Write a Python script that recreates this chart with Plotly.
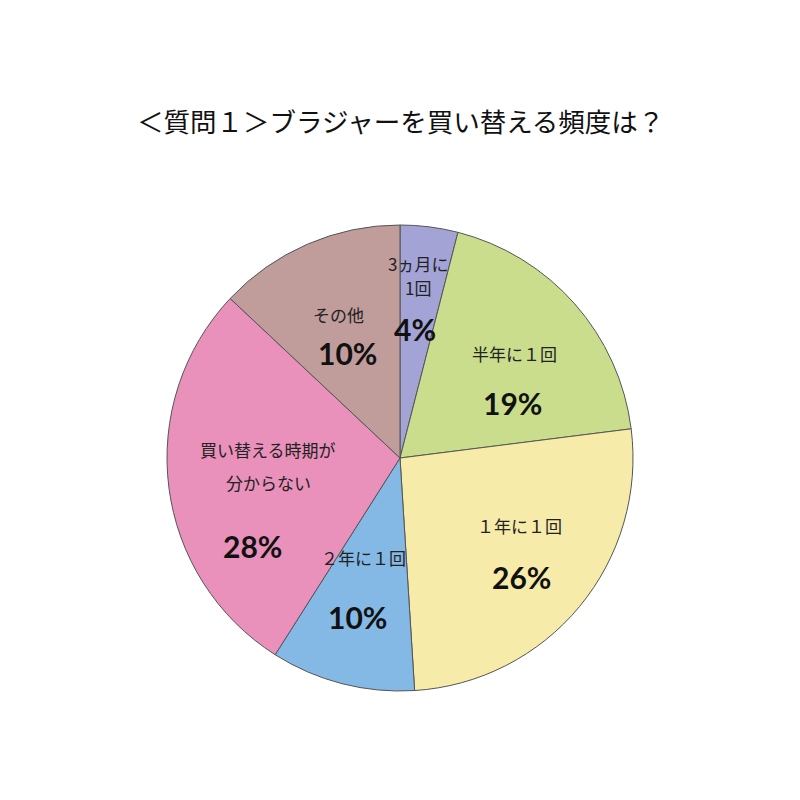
import math
import plotly.graph_objects as go

# slices, clockwise from 12 o'clock
categories = ["3ヵ月に<br>1回", "半年に１回", "１年に１回", "２年に１回",
              "買い替える時期が<br>分からない", "その他"]
slice_sizes = [4, 19, 26, 10, 28, 13]          # angular share
pct_labels = ["4%", "19%", "26%", "10%", "28%", "10%"]  # percentages printed on the chart
colors = ["#a3a3d6", "#c9dd8c", "#f6eba9", "#84b9e6", "#e991bb", "#c09c9b"]

# label placement (style only): radial fraction, category offset, percent offset, line gap
label_frac = [0.72, 0.60, 0.66, 0.58, 0.63, 0.58]
cat_off = [(-3, -16), (10, -12), (1, -31), (-3, -31), (14, -10), (-8, -19)]
pct_off = [(-6, 37), (8, 37), (3, 21), (-9, 28), (-2, 70), (1, 19)]
line_gap = [24, 0, 0, 0, 33, 0]

W = H = 800
PAGE_PAD = 8  # the html body margin shifts the figure
cx, cy, R = 400 - PAGE_PAD, 458 - PAGE_PAD, 233
dom_x = [(cx - R) / W, (cx + R) / W]
dom_y = [1 - (cy + R) / H, 1 - (cy - R) / H]

fig = go.Figure(go.Pie(
    labels=[c.replace("<br>", "") for c in categories],
    values=slice_sizes,
    sort=False,
    direction="clockwise",
    rotation=0,
    marker=dict(colors=colors, line=dict(color="#555555", width=1)),
    textinfo="none",
    hoverinfo="label+value",
    domain=dict(x=dom_x, y=dom_y),
    showlegend=False,
))

total = sum(slice_sizes)
annotations = []
acc = 0
for i, v in enumerate(slice_sizes):
    mid = (acc + v / 2) / total * 2 * math.pi
    acc += v
    r = R * label_frac[i]
    px = cx + r * math.sin(mid)
    py = cy - r * math.cos(mid)
    lines = categories[i].split("<br>")
    n = len(lines)
    for k, line in enumerate(lines):
        dy = cat_off[i][1] + (k - (n - 1) / 2) * line_gap[i]
        annotations.append(dict(
            x=(px + cat_off[i][0]) / W, y=1 - (py + dy) / H,
            xref="paper", yref="paper", showarrow=False, text=line,
            font=dict(family="Noto Sans CJK JP", size=17, color="#222222"),
            xanchor="center", yanchor="middle"))
    annotations.append(dict(
        x=(px + pct_off[i][0]) / W, y=1 - (py + pct_off[i][1]) / H,
        xref="paper", yref="paper", showarrow=False, text="<b>" + pct_labels[i] + "</b>",
        font=dict(family="Lato", size=30, color="#111111"),
        xanchor="center", yanchor="middle"))

annotations.append(dict(
    x=(400 - PAGE_PAD) / W, y=1 - (121 - PAGE_PAD) / H, xref="paper", yref="paper",
    showarrow=False,
    text="＜質問１＞ブラジャーを買い替える頻度は？",
    font=dict(family="Noto Sans CJK JP", size=26.5, color="#111111"),
    xanchor="center", yanchor="middle"))

fig.update_layout(
    width=W, height=H,
    margin=dict(l=0, r=0, t=0, b=0),
    paper_bgcolor="white",
    plot_bgcolor="white",
    annotations=annotations,
)

fig.write_html("out.html")
